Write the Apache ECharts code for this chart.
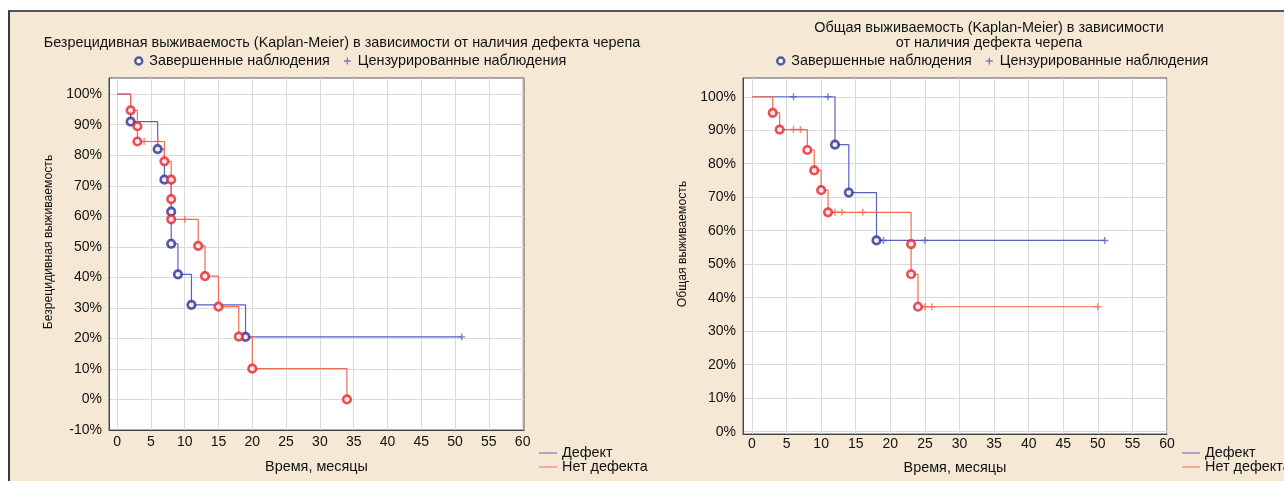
<!DOCTYPE html>
<html>
<head>
<meta charset="utf-8">
<script src="https://cdn.jsdelivr.net/npm/echarts@6/dist/echarts.min.js"></script>
<style>
  html, body { margin: 0; padding: 0; background: #fff; }
  #panel { position: absolute; left: 8px; top: 10px; right: 0; bottom: 0; background: #f5e9d6;
           border-left: 2px solid #3a3a3a; border-top: 2px solid #555; }
  #chart { position: absolute; left: 0; top: 0; width: 1284px; height: 481px; }
</style>
</head>
<body>
<div id="panel"></div>
<div id="chart"></div>
<script>
// Безрецидивная выживаемость: события и цензурированные наблюдения
var rfsDefEvT = [2, 6, 7, 8, 8, 9, 11, 19];
var rfsDefEvS = [91, 82, 72, 61.5, 51, 41, 31, 20.5];
var rfsDefCenT = [51];
var rfsDefCenS = [20.5];

var rfsNoEvT = [2, 3, 3, 7, 8, 8, 8, 12, 13, 15, 18, 20, 34];
var rfsNoEvS = [94.7, 89.5, 84.5, 78, 72, 65.6, 59, 50.3, 40.4, 30.4, 20.6, 10.1, 0];
var rfsNoCenT = [4, 6, 10];
var rfsNoCenS = [84.5, 84.5, 59];

// Общая выживаемость
var osDefEvT = [12, 14, 18];
var osDefEvS = [85.7, 71.4, 57.1];
var osDefCenT = [6, 11, 19, 25, 51];
var osDefCenS = [100, 100, 57.1, 57.1, 57.1];

var osNoEvT = [3, 4, 8, 9, 10, 11, 23, 23, 24];
var osNoEvS = [95.2, 90.2, 84.1, 78, 72.1, 65.5, 56, 47, 37.3];
var osNoCenT = [6, 7, 12, 13, 16, 25, 26, 50];
var osNoCenS = [90.2, 90.2, 65.5, 65.5, 65.5, 37.3, 37.3, 37.3];

var xTicks = [0, 5, 10, 15, 20, 25, 30, 35, 40, 45, 50, 55, 60];
var rfsYTicks = [-10, 0, 10, 20, 30, 40, 50, 60, 70, 80, 90, 100];
var osYTicks = [0, 10, 20, 30, 40, 50, 60, 70, 80, 90, 100];

var BLUE_LINE = '#5a60c4', BLUE_MARK = '#2c2f8e';
var RED_LINE = '#f26a52', RED_MARK = '#e8232a';
var FONT = '"Liberation Sans", Arial, sans-serif';
var PLUS = 'path://M4,0H6V4H10V6H6V10H4V6H0V4H4Z';

function pairs(t, s) {
  return t.map(function (v, i) { return [v, s[i]]; });
}
// ступенчатая кривая: старт 100%, затем все наблюдения по времени
function curve(evT, evS, cenT, cenS) {
  var pts = [[0, 100]].concat(pairs(evT, evS), pairs(cenT, cenS));
  pts.sort(function (a, b) { return a[0] - b[0]; });
  return pts;
}

function xAxis(grid, min, max, gap, margin) {
  return {
    gridIndex: grid, type: 'value', min: min, max: max,
    name: 'Время, месяцы', nameLocation: 'middle', nameGap: gap,
    nameTextStyle: { fontSize: 14.4, color: '#111', fontFamily: FONT },
    axisLine: { show: true, onZero: false, lineStyle: { color: '#444' } },
    axisTick: { show: false, customValues: xTicks },
    axisLabel: { customValues: xTicks, fontSize: 14, color: '#111', fontFamily: FONT, margin: margin },
    splitLine: { show: true, lineStyle: { color: '#dadada' } }
  };
}
function yAxis(grid, min, max, ticks, name) {
  return {
    gridIndex: grid, type: 'value', min: min, max: max,
    name: name, nameLocation: 'middle', nameGap: 54,
    nameTextStyle: { fontSize: 12.2, color: '#111', fontFamily: FONT, padding: [0, 0, 0, 24] },
    axisLine: { show: true, onZero: false, lineStyle: { color: '#444' } },
    axisTick: { show: false, customValues: ticks },
    axisLabel: { customValues: ticks, fontSize: 14, color: '#111', fontFamily: FONT, margin: 7,
                 formatter: function (v) { return v + '%'; } },
    splitLine: { show: true, lineStyle: { color: '#dadada' } }
  };
}

function lineSeries(name, idx, data, color) {
  return {
    name: name, type: 'line', xAxisIndex: idx, yAxisIndex: idx, data: data,
    step: 'end', showSymbol: false, color: color,
    lineStyle: { color: color, width: 1.2 }, z: 2, animation: false
  };
}
function eventSeries(idx, data, color) {
  return {
    name: 'Завершенные наблюдения', type: 'scatter', xAxisIndex: idx, yAxisIndex: idx, data: data,
    symbol: 'circle', symbolSize: 7.5, color: color,
    itemStyle: { color: '#fff', borderColor: color, borderWidth: 2.7 }, z: 4, animation: false
  };
}
function censSeries(idx, data, color) {
  return {
    name: 'Цензурированные наблюдения', type: 'scatter', xAxisIndex: idx, yAxisIndex: idx, data: data,
    symbol: PLUS, symbolSize: 7, color: color, itemStyle: { color: color }, z: 3, animation: false
  };
}

function topLegend(left) {
  return {
    left: left, top: 54, itemGap: 14, itemWidth: 7, itemHeight: 7, padding: 0,
    textStyle: { fontSize: 14.4, color: '#111', fontFamily: FONT, padding: [0, 0, 0, 2] },
    selectedMode: false,
    data: [
      { name: 'Завершенные наблюдения', icon: 'circle',
        itemStyle: { color: '#fff', borderColor: BLUE_MARK, borderWidth: 2.5 } },
      { name: 'Цензурированные наблюдения', icon: PLUS, itemStyle: { color: BLUE_LINE, borderWidth: 0 } }
    ]
  };
}
function bottomLegend(left) {
  return {
    left: left, top: 446, orient: 'vertical', itemGap: 0, itemWidth: 18, itemHeight: 1,
    icon: 'rect', selectedMode: false, padding: 0,
    textStyle: { fontSize: 14.4, color: '#111', fontFamily: FONT, lineHeight: 13 },
    data: ['Дефект', 'Нет дефекта']
  };
}

var chart = echarts.init(document.getElementById('chart'));
chart.setOption({
  backgroundColor: 'transparent',
  animation: false,
  textStyle: { fontFamily: FONT },
  grid: [
    { left: 109, top: 78, width: 415, height: 352, show: true, backgroundColor: '#fff',
      borderColor: '#555', borderWidth: 1, outerBoundsMode: 'none' },
    { left: 743, top: 78, width: 424, height: 356, show: true, backgroundColor: '#fff',
      borderColor: '#555', borderWidth: 1, outerBoundsMode: 'none' }
  ],
  xAxis: [xAxis(0, -1.2, 60.2, 30, 5), xAxis(1, -1.3, 60, 27, 3)],
  yAxis: [
    yAxis(0, -10, 105.3, rfsYTicks, 'Безрецидивная выживаемость'),
    yAxis(1, -0.7, 105.6, osYTicks, 'Общая выживаемость')
  ],
  legend: [topLegend(134), topLegend(776), bottomLegend(539), bottomLegend(1182)],
  graphic: [
    { type: 'text', x: 342, y: 36,
      style: { text: 'Безрецидивная выживаемость (Kaplan-Meier) в зависимости от наличия дефекта черепа',
               textAlign: 'center', font: '14.4px ' + FONT, fill: '#111' } },
    { type: 'text', x: 989, y: 21,
      style: { text: 'Общая выживаемость (Kaplan-Meier) в зависимости\nот наличия дефекта черепа',
               textAlign: 'center', font: '14.4px ' + FONT, fill: '#111', lineHeight: 15 } }
  ],
  series: [
    lineSeries('Дефект', 0, curve(rfsDefEvT, rfsDefEvS, rfsDefCenT, rfsDefCenS), BLUE_LINE),
    lineSeries('Нет дефекта', 0, curve(rfsNoEvT, rfsNoEvS, rfsNoCenT, rfsNoCenS), RED_LINE),
    eventSeries(0, pairs(rfsDefEvT, rfsDefEvS), BLUE_MARK),
    eventSeries(0, pairs(rfsNoEvT, rfsNoEvS), RED_MARK),
    censSeries(0, pairs(rfsDefCenT, rfsDefCenS), BLUE_LINE),
    censSeries(0, pairs(rfsNoCenT, rfsNoCenS), RED_LINE),

    lineSeries('Дефект', 1, curve(osDefEvT, osDefEvS, osDefCenT, osDefCenS), BLUE_LINE),
    lineSeries('Нет дефекта', 1, curve(osNoEvT, osNoEvS, osNoCenT, osNoCenS), RED_LINE),
    eventSeries(1, pairs(osDefEvT, osDefEvS), BLUE_MARK),
    eventSeries(1, pairs(osNoEvT, osNoEvS), RED_MARK),
    censSeries(1, pairs(osDefCenT, osDefCenS), BLUE_LINE),
    censSeries(1, pairs(osNoCenT, osNoCenS), RED_LINE)
  ]
});
</script>
</body>
</html>
